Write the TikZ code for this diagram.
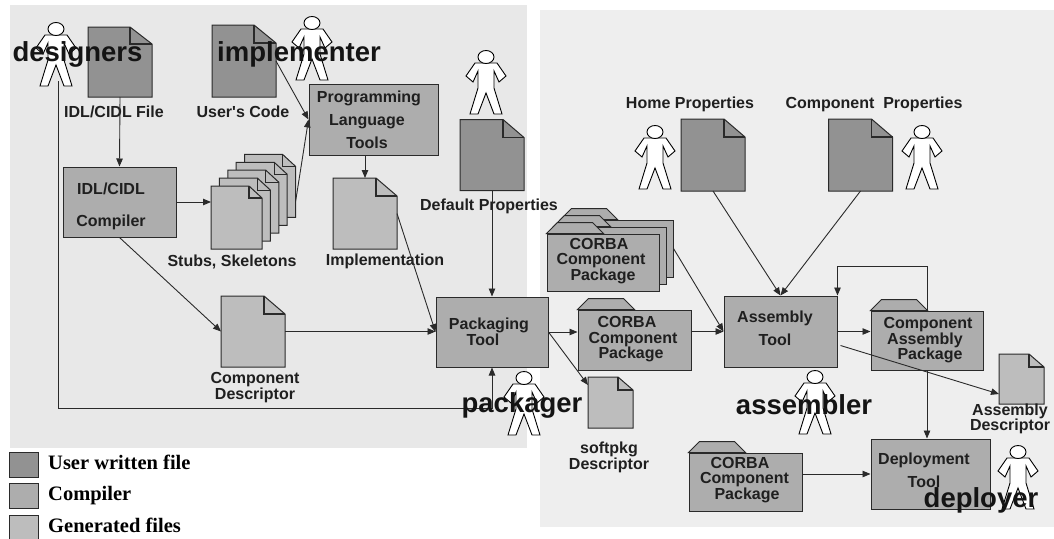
\documentclass[tikz,border=0pt]{standalone}
\usepackage{fontspec}
\usepackage{xcolor}
\usepackage{tikz}
\usetikzlibrary{arrows.meta}
\usetikzlibrary{calc}
\setmainfont{Liberation Serif}
\newfontfamily\lblsans{Liberation Sans}
\definecolor{userdoc}{HTML}{929292}
\definecolor{toolgray}{HTML}{ADADAD}
\definecolor{gendoc}{HTML}{BDBDBD}
\definecolor{leftbg}{HTML}{E8E8E8}
\definecolor{rightbg}{HTML}{EEEEEE}
\definecolor{inkline}{HTML}{2A2A2A}
\newcommand{\smalllbl}{\lblsans\bfseries\fontsize{16}{15.5}\selectfont}
\newcommand{\biglbl}{\lblsans\bfseries\fontsize{27.5}{30}\selectfont}
\newcommand{\legendlbl}{\bfseries\fontsize{20.5}{24}\selectfont}
\tikzset{
    flow/.style={draw=inkline, line width=0.9pt, -{Triangle[length=8pt,width=6.5pt]}},
    outline/.style={draw=inkline, line width=1pt},
    lbl/.style={font=\smalllbl, align=center, inner sep=0pt, text=black!88},
    actorlbl/.style={font=\biglbl, inner sep=0pt, text=black!92},
    legendtxt/.style={font=\legendlbl, anchor=base west, inner sep=0pt},
    legendbox/.style={outline, minimum width=29pt, minimum height=25pt, inner sep=0pt},
    toolbox/.style={outline, fill=toolgray, inner sep=0pt},
    pagearea/.style={inner sep=0pt, outer sep=0pt},
    person/.pic={
        \filldraw[fill=white, draw=black, line width=0.9pt]
            (-11,6) -- (11,6) -- (20,19) -- (13,25) -- (8,14) -- (8,31) -- (16,57) -- (8,57)
            -- (0,36) -- (-8,57) -- (-16,57) -- (-8,31) -- (-8,14) -- (-13,25) -- (-20,19) -- cycle;
        \filldraw[fill=white, draw=black, line width=0.9pt] (0,0) ellipse (8pt and 6.5pt);
        \coordinate (-feet) at (2,52);
    }
}
% page with a folded corner: name, centre, width, height, fold x, fold y, colour
\newcommand{\docpage}[7]{
    \node[pagearea, minimum width=#3pt, minimum height=#4pt] (#1) at (#2) {};
    \filldraw[outline, fill=#7] (#1.south west) -- (#1.north west) -- ($(#1.north east)+(-#5pt,0pt)$)
        -- ($(#1.north east)+(0pt,-#6pt)$) -- (#1.south east) -- cycle;
    \draw[outline, line width=1.2pt] ($(#1.north east)+(-#5pt,0pt)$) -- ($(#1.north east)+(-#5pt,-#6pt)$)
        -- ($(#1.north east)+(0pt,-#6pt)$);
}
% folder with a tab: name, centre, width, height
\newcommand{\folderbox}[4]{
    \node[toolbox, minimum width=#3pt, minimum height=#4pt] (#1) at (#2) {};
    \filldraw[outline, fill=toolgray] (#1.north west) -- ++(11pt,11pt) -- ++(35pt,0pt) -- ++(11pt,-11pt) -- cycle;
}

\begin{document}
\begin{tikzpicture}[x=1pt,y=-1pt]
    \useasboundingbox (0,0) rectangle (1054,538);
    % Backgrounds
    \fill[leftbg] (10,5) rectangle (527,448);
    \fill[rightbg] (540,10) rectangle (1054,527);

    % Source files
    \docpage{idlfile}{120,62}{64}{70}{22}{17}{userdoc}
    \docpage{usercode}{244,61}{64}{72}{22}{18}{userdoc}
    \node[lbl] (idlfilelbl) at (114,112) {IDL/CIDL File};
    \node[lbl] (usercodelbl) at (243,112) {User's Code};

    % Compiler and tools
    \node[toolbox, minimum width=113pt, minimum height=70pt] (compiler) at (119.5,202) {};
    \node[lbl] (compilerlbl) at (111,206) {IDL/CIDL\\[16.5pt]Compiler};
    \node[toolbox, minimum width=129pt, minimum height=71pt] (langtools) at (373.5,119.5) {};
    \node[lbl] (langtoolslbl) at (367,120) {\hspace*{4pt}Programming\\[7.5pt]Language\\[7.5pt]Tools};
    \node[toolbox, minimum width=112pt, minimum height=70pt] (packtool) at (492,332) {};
    \node[lbl] (packtoollbl) at (486,332) {\hspace*{6pt}Packaging\\\hspace*{-6pt}Tool};
    \node[toolbox, minimum width=113pt, minimum height=71pt] (asmtool) at (780.5,331.5) {};
    \node[lbl] (asmtoollbl) at (775,328) {Assembly\\[7.5pt]Tool};
    \node[toolbox, minimum width=119pt, minimum height=70pt] (deploytool) at (930.5,474) {};
    \node[lbl] (deploytoollbl) at (924,470) {Deployment\\[7.5pt]Tool};

    % Generated files
    \foreach \i in {4,...,0} {
        \docpage{stub\i}{{236.5+8.4*\i},{217.5-7.9*\i}}{51}{63}{13}{12}{gendoc}
    }
    \node[lbl] (stublbl) at (232,262) {Stubs, Skeletons};
    \docpage{implfile}{365,213.5}{64}{71}{21}{18}{gendoc}
    \node[lbl] (impllbl) at (385,261) {Implementation};
    \docpage{compdesc}{253,331.5}{64}{71}{21}{18}{gendoc}
    \node[lbl] (compdesclbl) at (255,387.5) {Component\\Descriptor};
    \docpage{softpkg}{610.5,402.5}{45}{51}{15}{13}{gendoc}
    \node[lbl] (softpkglbl) at (609,457.5) {softpkg\\Descriptor};
    \docpage{asmdesc}{1021.5,379}{45}{50}{15}{13}{gendoc}
    \node[lbl] (asmdesclbl) at (1010,419) {Assembly\\Descriptor};

    % Property files
    \docpage{defaultprops}{492,155}{64}{71}{21}{18}{userdoc}
    \node[lbl] (defaultlbl) at (489,206) {Default Properties};
    \docpage{homeprops}{713,155}{64}{72}{21}{18}{userdoc}
    \node[lbl] (homelbl) at (690,104) {Home Properties};
    \docpage{compprops}{860.5,155}{64}{72}{21}{18}{userdoc}
    \node[lbl] (complbl) at (874,104) {Component\ \ Properties};

    % Packages
    \foreach \i in {2,1,0} {
        \folderbox{corbastack\i}{{603+7*\i},{262.5-7*\i}}{112}{57}
    }
    \node[lbl] (corbastacklbl) at (601,261) {\hspace*{-4pt}CORBA\\Component\\\hspace*{4pt}Package};
    \folderbox{corbapkg}{634.5,340}{113}{60}
    \node[lbl] (corbapkglbl) at (631,339.5) {\hspace*{-8pt}CORBA\\\hspace*{4pt}Component\\Package};
    \folderbox{corbainput}{745.5,482}{113}{58}
    \node[lbl] (corbainputlbl) at (744.5,480) {\hspace*{-9pt}CORBA\\Component\\\hspace*{5pt}Package};
    \folderbox{asmpkg}{927,340.5}{112}{59}
    \node[lbl] (asmpkglbl) at (928,340.5) {Component\\\hspace*{-6pt}Assembly\\\hspace*{4pt}Package};

    % Connectors
    \draw[flow] (idlfile.south) -- (compiler.north);
    \draw[flow] (compiler.east) -- (compiler.east -| stub0.west);
    \draw[flow] (compiler.south) -- (compdesc.west);
    \draw[flow] ($(stub4.south east)+(0pt,16pt)$) -- (langtools.west);
    \draw[flow] (usercode.east) -- (langtools.west);
    \draw[flow] (implfile.north |- langtools.south) -- (implfile.north);
    \draw[flow] (implfile.east) -- (packtool.west);
    \draw[flow] (compdesc.east) -- (compdesc.east -| packtool.west);
    \draw[flow] (defaultprops.south) -- (packtool.north);
    \draw[flow] (packtool.east) -- (packtool.east -| corbapkg.west);
    \draw[flow] (packtool.east) -- ($(softpkg.north west)+(0pt,-8pt)$);
    \draw[flow] (asmtool.west -| corbapkg.east) -- (asmtool.west);
    \draw[flow] (corbastack2.east) -- (asmtool.west);
    \draw[flow] (homeprops.south) -- (asmtool.north);
    \draw[flow] (compprops.south) -- (asmtool.north);
    \draw[flow] (asmtool.east) -- (asmtool.east -| asmpkg.west);
    \draw[flow] (asmpkg.north) -- ++(0pt,44pt) -| (asmtool.north east);
    \draw[flow] ($(asmtool.east)+(3pt,-14pt)$) -- ($(asmdesc.south west)+(0pt,10pt)$);
    \draw[flow] (asmpkg.south) -- (asmpkg.south |- deploytool.north);
    \draw[flow] (deploytool.west -| corbainput.east) -- (deploytool.west);

    % People
    \pic (designerman) at (56,29) {person};
    \pic (implementerman) at (312,23) {person};
    \pic (defaultman) at (486,57) {person};
    \pic (homeman) at (655,132) {person};
    \pic (compman) at (922,132) {person};
    \pic (packagerman) at (524,378) {person};
    \pic (assemblerman) at (815,377) {person};
    \pic (deployerman) at (1018,452) {person};
    \draw[flow] (designerman-feet) |- ($(packtool.south)+(0pt,-41pt)$) -- (packtool.south);

    % Role names
    \node[actorlbl] (designerlbl) at (77.5,54) {designers};
    \node[actorlbl] (implementerlbl) at (299,54) {implementer};
    \node[actorlbl] (packagerlbl) at (522,405) {packager};
    \node[actorlbl] (assemblerlbl) at (804,405) {assembler};
    \node[actorlbl] (deployerlbl) at (981,500) {deployer};

    % Legend
    \node[legendbox, fill=userdoc] (legendone) at (23.5,464.5) {};
    \node[legendbox, fill=toolgray] (legendtwo) at (23.5,496) {};
    \node[legendbox, fill=gendoc] (legendthree) at (23.5,527.5) {};
    \node[legendtxt] (legendonetxt) at (48,469) {User written file};
    \node[legendtxt] (legendtwotxt) at (48,500) {Compiler};
    \node[legendtxt] (legendthreetxt) at (48,532) {Generated files};
\end{tikzpicture}
\end{document}
